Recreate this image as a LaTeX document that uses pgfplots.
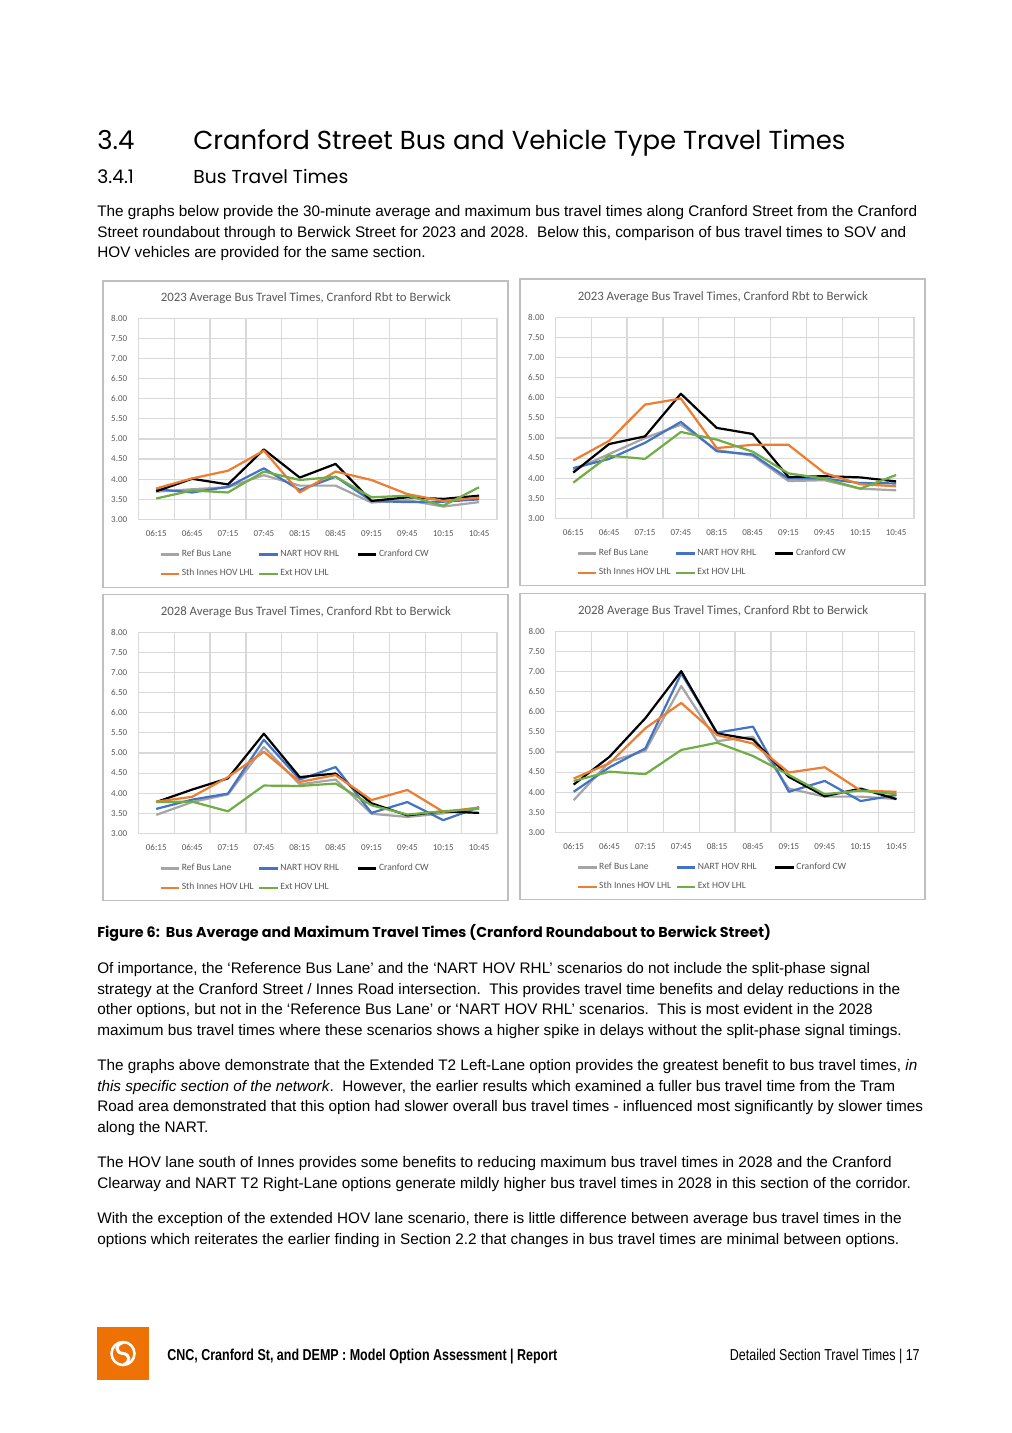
\documentclass[border=0pt]{standalone}
\usepackage{fontspec}
\usepackage{pgfplots}
\usepackage{pgfplotstable}
\pgfplotsset{compat=1.18}
\setmainfont{Liberation Sans}
\newfontfamily\headfont{Poppins}
\newfontfamily\chartfont{Carlito}
\newfontfamily\narrowfont[FakeStretch=0.79]{Liberation Sans}

\definecolor{refgray}{RGB}{165,165,165}
\definecolor{nartblue}{RGB}{68,114,196}
\definecolor{innesorange}{RGB}{237,125,49}
\definecolor{extgreen}{RGB}{112,173,71}
\definecolor{gridgray}{RGB}{217,217,217}
\definecolor{labelgray}{RGB}{89,89,89}
\definecolor{framegray}{RGB}{191,191,191}
\definecolor{logoorange}{RGB}{238,114,3}

% columns: ref = Ref Bus Lane, nart = NART HOV RHL, cw = Cranford CW, innes = Sth Innes HOV LHL, ext = Ext HOV LHL
\pgfplotstableread{
x ref nart cw innes ext
0 3.69 3.75 3.70 3.77 3.52
1 3.75 3.67 4.01 4.02 3.72
2 3.80 3.81 3.87 4.21 3.67
3 4.10 4.27 4.74 4.71 4.19
4 3.84 3.73 4.04 3.67 3.98
5 3.84 4.06 4.38 4.19 4.06
6 3.42 3.46 3.46 3.98 3.55
7 3.48 3.43 3.55 3.63 3.59
8 3.32 3.44 3.51 3.46 3.34
9 3.43 3.50 3.59 3.54 3.80
}\tabA
\pgfplotstableread{
x ref nart cw innes ext
0 4.20 4.25 4.14 4.44 3.89
1 4.60 4.48 4.85 4.93 4.56
2 5.00 4.88 5.04 5.83 4.48
3 5.33 5.40 6.10 5.98 5.15
4 4.70 4.67 5.25 4.75 4.96
5 4.56 4.59 5.10 4.83 4.66
6 3.93 3.99 4.03 4.83 4.12
7 3.95 3.99 4.05 4.13 3.99
8 3.74 3.88 4.02 3.85 3.74
9 3.70 3.87 3.92 3.80 4.08
}\tabB
\pgfplotstableread{
x ref nart cw innes ext
0 3.46 3.61 3.78 3.79 3.78
1 3.78 3.84 4.09 3.91 3.79
2 3.97 3.99 4.37 4.40 3.55
3 5.15 5.33 5.48 5.03 4.19
4 4.22 4.34 4.40 4.28 4.18
5 4.34 4.65 4.49 4.45 4.24
6 3.49 3.51 3.75 3.83 3.70
7 3.41 3.78 3.45 4.08 3.47
8 3.50 3.33 3.55 3.54 3.55
9 3.65 3.65 3.51 3.64 3.61
}\tabC
\pgfplotstableread{
x ref nart cw innes ext
0 3.80 4.01 4.19 4.34 4.28
1 4.76 4.62 4.88 4.72 4.51
2 5.03 5.09 5.84 5.59 4.45
3 6.64 6.95 7.01 6.22 5.05
4 5.27 5.48 5.46 5.42 5.23
5 5.38 5.63 5.31 5.21 4.90
6 4.09 4.01 4.38 4.49 4.43
7 3.89 4.28 3.90 4.62 3.95
8 3.89 3.78 4.09 4.04 4.04
9 3.83 3.93 3.83 4.01 3.95
}\tabD

\newcommand\smallchart{\chartfont\fontsize{5.3}{6}\selectfont}
\newcommand\legendfont{\chartfont\fontsize{5.65}{6.5}\selectfont}
\pgfplotsset{
  buschart/.style={
    scale only axis, width=211pt, height=118.3pt,
    anchor=north west,
    xmin=-0.5, xmax=9.5, ymin=3, ymax=8,
    xtick={0,...,9},
    xticklabels={06:15,06:45,07:15,07:45,08:15,08:45,09:15,09:45,10:15,10:45},
    minor xtick={0.5,1.5,...,8.5},
    ytick={3,3.5,...,8},
    xminorgrids, ymajorgrids,
    major tick length=0pt, minor tick length=0pt,
    grid style={draw=gridgray, line width=0.7pt},
    minor grid style={draw=gridgray, line width=0.7pt},
    axis line style={draw=gridgray, line width=0.7pt},
    tick label style={font=\smallchart, text=labelgray},
    xticklabel style={yshift=-3pt},
    yticklabel style={xshift=-3pt,
      /pgf/number format/fixed, /pgf/number format/fixed zerofill,
      /pgf/number format/precision=2, /pgf/number format/assume math mode=true},
    title style={font=\chartfont\fontsize{7.55}{8}\selectfont, text=labelgray,
      at={(axis description cs:0.467,1)}, anchor=base, yshift=4pt},
    legend columns=3,
    legend cell align=left,
    legend style={draw=none, fill=none, font=\legendfont, text=labelgray,
      at={(axis description cs:0.044,-0.125)}, anchor=north west,
      /tikz/every even column/.append style={column sep=0pt},
      row sep=4.2pt, nodes={inner sep=0.9pt}},
    legend image code/.code={\draw[#1] (0pt,0pt) -- (10.9pt,0pt);},
    every axis plot/.append style={line width=1.3pt, line join=round, mark=none},
  }
}
\newcommand\busplots[1]{%
  \addplot[refgray] table[x=x,y=ref]{#1};
  \addplot[nartblue] table[x=x,y=nart]{#1};
  \addplot[black] table[x=x,y=cw]{#1};
  \addplot[innesorange] table[x=x,y=innes]{#1};
  \addplot[extgreen] table[x=x,y=ext]{#1};
  \legend{\makebox[44pt][l]{Ref Bus Lane},\makebox[44pt][l]{NART HOV RHL},\makebox[44pt][l]{Cranford CW},
    \makebox[44pt][l]{Sth Innes HOV LHL},\makebox[44pt][l]{Ext HOV LHL}}
}
\newcommand\bodyfont{\fontsize{9}{12}\selectfont}

\begin{document}
\begin{tikzpicture}
\begin{scope}[x=0.5882pt,y=-0.5882pt]
  \useasboundingbox (0,0) rectangle (1012,1433);
  \fill[white] (0,0) rectangle (1012,1433);
  % headings
  \node[anchor=base west, inner sep=0pt, font=\headfont\fontsize{15.3}{18}\selectfont] at (97,149.3) {3.4};
  \node[anchor=base west, inner sep=0pt, font=\headfont\fontsize{15.3}{18}\selectfont] at (193,149.3) {Cranford Street Bus and Vehicle Type Travel Times};
  \node[anchor=base west, inner sep=0pt, font=\headfont\fontsize{11}{13}\selectfont] at (97,183.3) {3.4.1};
  \node[anchor=base west, inner sep=0pt, font=\headfont\fontsize{11}{13}\selectfont] at (193,183.3) {Bus Travel Times};
  % paragraphs
  \begin{scope}[every node/.style={anchor=base west, inner sep=0pt, font=\bodyfont}]
    \node at (97,216.7) {The graphs below provide the 30-minute average and maximum bus travel times along Cranford Street from the Cranford};
    \node at (97,237.2) {Street roundabout through to Berwick Street for 2023 and 2028.\ \ Below this, comparison of bus travel times to SOV and};
    \node at (97,257.7) {HOV vehicles are provided for the same section.};
    \node at (97,973.5) {Of importance, the ‘Reference Bus Lane’ and the ‘NART HOV RHL’ scenarios do not include the split-phase signal};
    \node at (97,994) {strategy at the Cranford Street / Innes Road intersection.\ \ This provides travel time benefits and delay reductions in the};
    \node at (97,1014.5) {other options, but not in the ‘Reference Bus Lane’ or ‘NART HOV RHL’ scenarios.\ \ This is most evident in the 2028};
    \node at (97,1035) {maximum bus travel times where these scenarios shows a higher spike in delays without the split-phase signal timings.};
    \node at (97,1070.5) {The graphs above demonstrate that the Extended T2 Left-Lane option provides the greatest benefit to bus travel times, \textit{in}};
    \node at (97,1091) {\textit{this specific section of the network}.\ \ However, the earlier results which examined a fuller bus travel time from the Tram};
    \node at (97,1111.5) {Road area demonstrated that this option had slower overall bus travel times - influenced most significantly by slower times};
    \node at (97,1132) {along the NART.};
    \node at (97,1167.5) {The HOV lane south of Innes provides some benefits to reducing maximum bus travel times in 2028 and the Cranford};
    \node at (97,1188) {Clearway and NART T2 Right-Lane options generate mildly higher bus travel times in 2028 in this section of the corridor.};
    \node at (97,1223.5) {With the exception of the extended HOV lane scenario, there is little difference between average bus travel times in the};
    \node at (97,1244) {options which reiterates the earlier finding in Section 2.2 that changes in bus travel times are minimal between options.};
  \end{scope}
  % caption
  \node[anchor=base west, inner sep=0pt, font=\headfont\bfseries\fontsize{8.42}{10}\selectfont] at (97,937) {Figure 6:\ \ Bus Average and Maximum Travel Times (Cranford Roundabout to Berwick Street)};
  % chart frames
  \draw[framegray, line width=0.6pt] (103,281) rectangle (508,587);
  \draw[framegray, line width=0.6pt] (520,279) rectangle (925,585);
  \draw[framegray, line width=0.6pt] (103,594) rectangle (508,900);
  \draw[framegray, line width=0.6pt] (520,593) rectangle (925,899);
  % footer
  \fill[logoorange] (97,1327) rectangle (149,1380);
  \draw[white, line width=1.5pt] (123,1353.5) circle (11.5);
  \draw[white, line width=1.8pt, line cap=round] (123,1342.5) .. controls (114,1345) and (116,1353) .. (123,1353.5) .. controls (130,1354) and (131,1362) .. (124,1364.5);
  \node[anchor=base west, inner sep=0pt, font=\narrowfont\bfseries\fontsize{9.3}{11}\selectfont] at (167,1360.7) {CNC, Cranford St, and DEMP : Model Option Assessment | Report};
  \node[anchor=base east, inner sep=0pt, font=\narrowfont\fontsize{9.3}{11}\selectfont] at (920,1360.7) {Detailed Section Travel Times | 17};
\end{scope}

\begin{axis}[buschart, at={(81.35pt,-187.22pt)}, title={2023 Average Bus Travel Times, Cranford Rbt to Berwick}]
  \busplots{\tabA}
\end{axis}
\begin{axis}[buschart, at={(326.63pt,-186.64pt)}, title={2023 Average Bus Travel Times, Cranford Rbt to Berwick}]
  \busplots{\tabB}
\end{axis}
\begin{axis}[buschart, at={(81.35pt,-371.92pt)}, title={2028 Average Bus Travel Times, Cranford Rbt to Berwick}]
  \busplots{\tabC}
\end{axis}
\begin{axis}[buschart, at={(326.86pt,-371.33pt)}, title={2028 Average Bus Travel Times, Cranford Rbt to Berwick}]
  \busplots{\tabD}
\end{axis}
\end{tikzpicture}
\end{document}
